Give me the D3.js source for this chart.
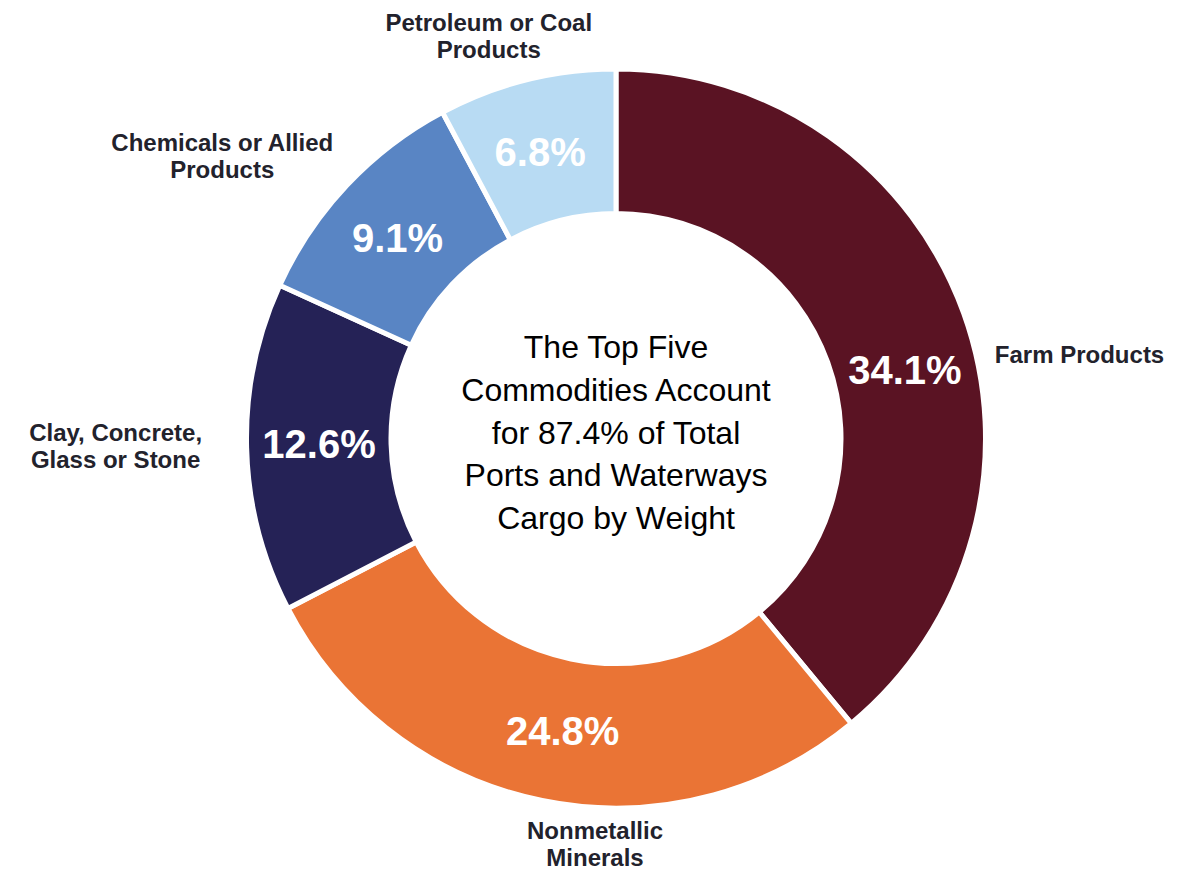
<!DOCTYPE html>
<html lang="en">
<head>
<meta charset="UTF-8">
<title>Top Five Commodities - Ports and Waterways Cargo</title>
<script src="https://d3js.org/d3.v7.min.js"></script>
<style>
    body {
        margin: 0;
        background: #fff;
        font-family: "Liberation Sans", Arial, sans-serif;
    }
    .slice {
        stroke: #fff;
        stroke-width: 5px;
    }
    .pct {
        fill: #fff;
        font-weight: bold;
        font-size: 40px;
    }
    .cat {
        fill: #22222c;
        font-weight: bold;
        font-size: 24px;
    }
    .center-text {
        fill: #000;
        font-size: 32px;
    }
</style>
</head>
<body>
<svg id="chart"></svg>
<script>
    // data
    const categories = ["Farm Products", "Nonmetallic Minerals", "Clay, Concrete, Glass or Stone",
                        "Chemicals or Allied Products", "Petroleum or Coal Products"];
    const shares = [34.1, 24.8, 12.6, 9.1, 6.8];
    const categoryLines = [
        ["Farm Products"],
        ["Nonmetallic", "Minerals"],
        ["Clay, Concrete,", "Glass or Stone"],
        ["Chemicals or Allied", "Products"],
        ["Petroleum or Coal", "Products"]
    ];
    const colors = ["#5a1323", "#ea7435", "#252256", "#5985c4", "#b8dbf3"];
    const centerLines = ["The Top Five", "Commodities Account", "for 87.4% of Total",
                         "Ports and Waterways", "Cargo by Weight"];

    // layout tweaks (degrees / px) for where the labels sit
    const pctNudge = [6.4, -1.2, 0.5, -0.6, -0.8];
    const catNudge = [7.3, -8.4, 0.4, 1.75, -4.5];
    const catRadius = [388, 384, 414, 400, 401];

    const width = 1183, height = 872;
    const cx = 616, cy = 438.5;
    const outerR = 369.5, innerR = 225;

    const svg = d3.select("#chart").attr("width", width).attr("height", height);
    const g = svg.append("g").attr("transform", `translate(${cx},${cy})`);

    const data = categories.map((c, i) => ({ name: c, value: shares[i], i }));

    const pie = d3.pie().value(d => d.value).sort(null);
    const arc = d3.arc().innerRadius(innerR).outerRadius(outerR);
    const arcs = pie(data);

    g.selectAll("path.slice")
        .data(arcs)
        .enter().append("path")
        .attr("class", "slice")
        .attr("fill", d => colors[d.data.i])
        .attr("d", arc);

    const rad = deg => deg * Math.PI / 180;
    const midDeg = d => (d.startAngle + d.endAngle) / 2 * 180 / Math.PI;

    // percentage labels
    const pctR = 297;
    g.selectAll("text.pct")
        .data(arcs)
        .enter().append("text")
        .attr("class", "pct")
        .attr("text-anchor", "middle")
        .attr("dy", "0.36em")
        .attr("x", d => pctR * Math.sin(rad(midDeg(d) + pctNudge[d.data.i])))
        .attr("y", d => -pctR * Math.cos(rad(midDeg(d) + pctNudge[d.data.i])))
        .text(d => d.data.value.toFixed(1) + "%");

    // category labels outside the ring (lines centred within the block)
    const lineH = 27.3;
    arcs.forEach(d => {
        const i = d.data.i;
        const a = rad(midDeg(d) + catNudge[i]);
        const px = catRadius[i] * Math.sin(a);
        const py = -catRadius[i] * Math.cos(a);
        const lines = categoryLines[i];
        const s = Math.sin(a), c = Math.cos(a);

        const t = g.append("text")
            .attr("class", "cat")
            .attr("text-anchor", "middle");
        const spans = lines.map(ln => t.append("tspan").text(ln));
        const blockW = d3.max(spans, sp => sp.node().getComputedTextLength());

        let x0, firstBase;
        if (Math.abs(s) < 0.5) {
            x0 = px;
            if (c > 0) firstBase = py - (lines.length - 1) * lineH;   // above ring: bottom at py
            else firstBase = py + 17;                                   // below ring: top at py
        } else {
            x0 = s > 0 ? px + blockW / 2 : px - blockW / 2;
            firstBase = py + 8.5 - (lines.length - 1) * lineH / 2;
        }
        spans.forEach((sp, k) => sp.attr("x", x0).attr("y", firstBase + k * lineH));
    });

    // center text
    const centerLineH = 42.8;
    const ct = g.append("text")
        .attr("class", "center-text")
        .attr("text-anchor", "middle");
    centerLines.forEach((ln, k) => {
        ct.append("tspan")
            .attr("x", 0)
            .attr("y", 5 + (k - 2) * centerLineH)
            .text(ln);
    });
</script>
</body>
</html>
